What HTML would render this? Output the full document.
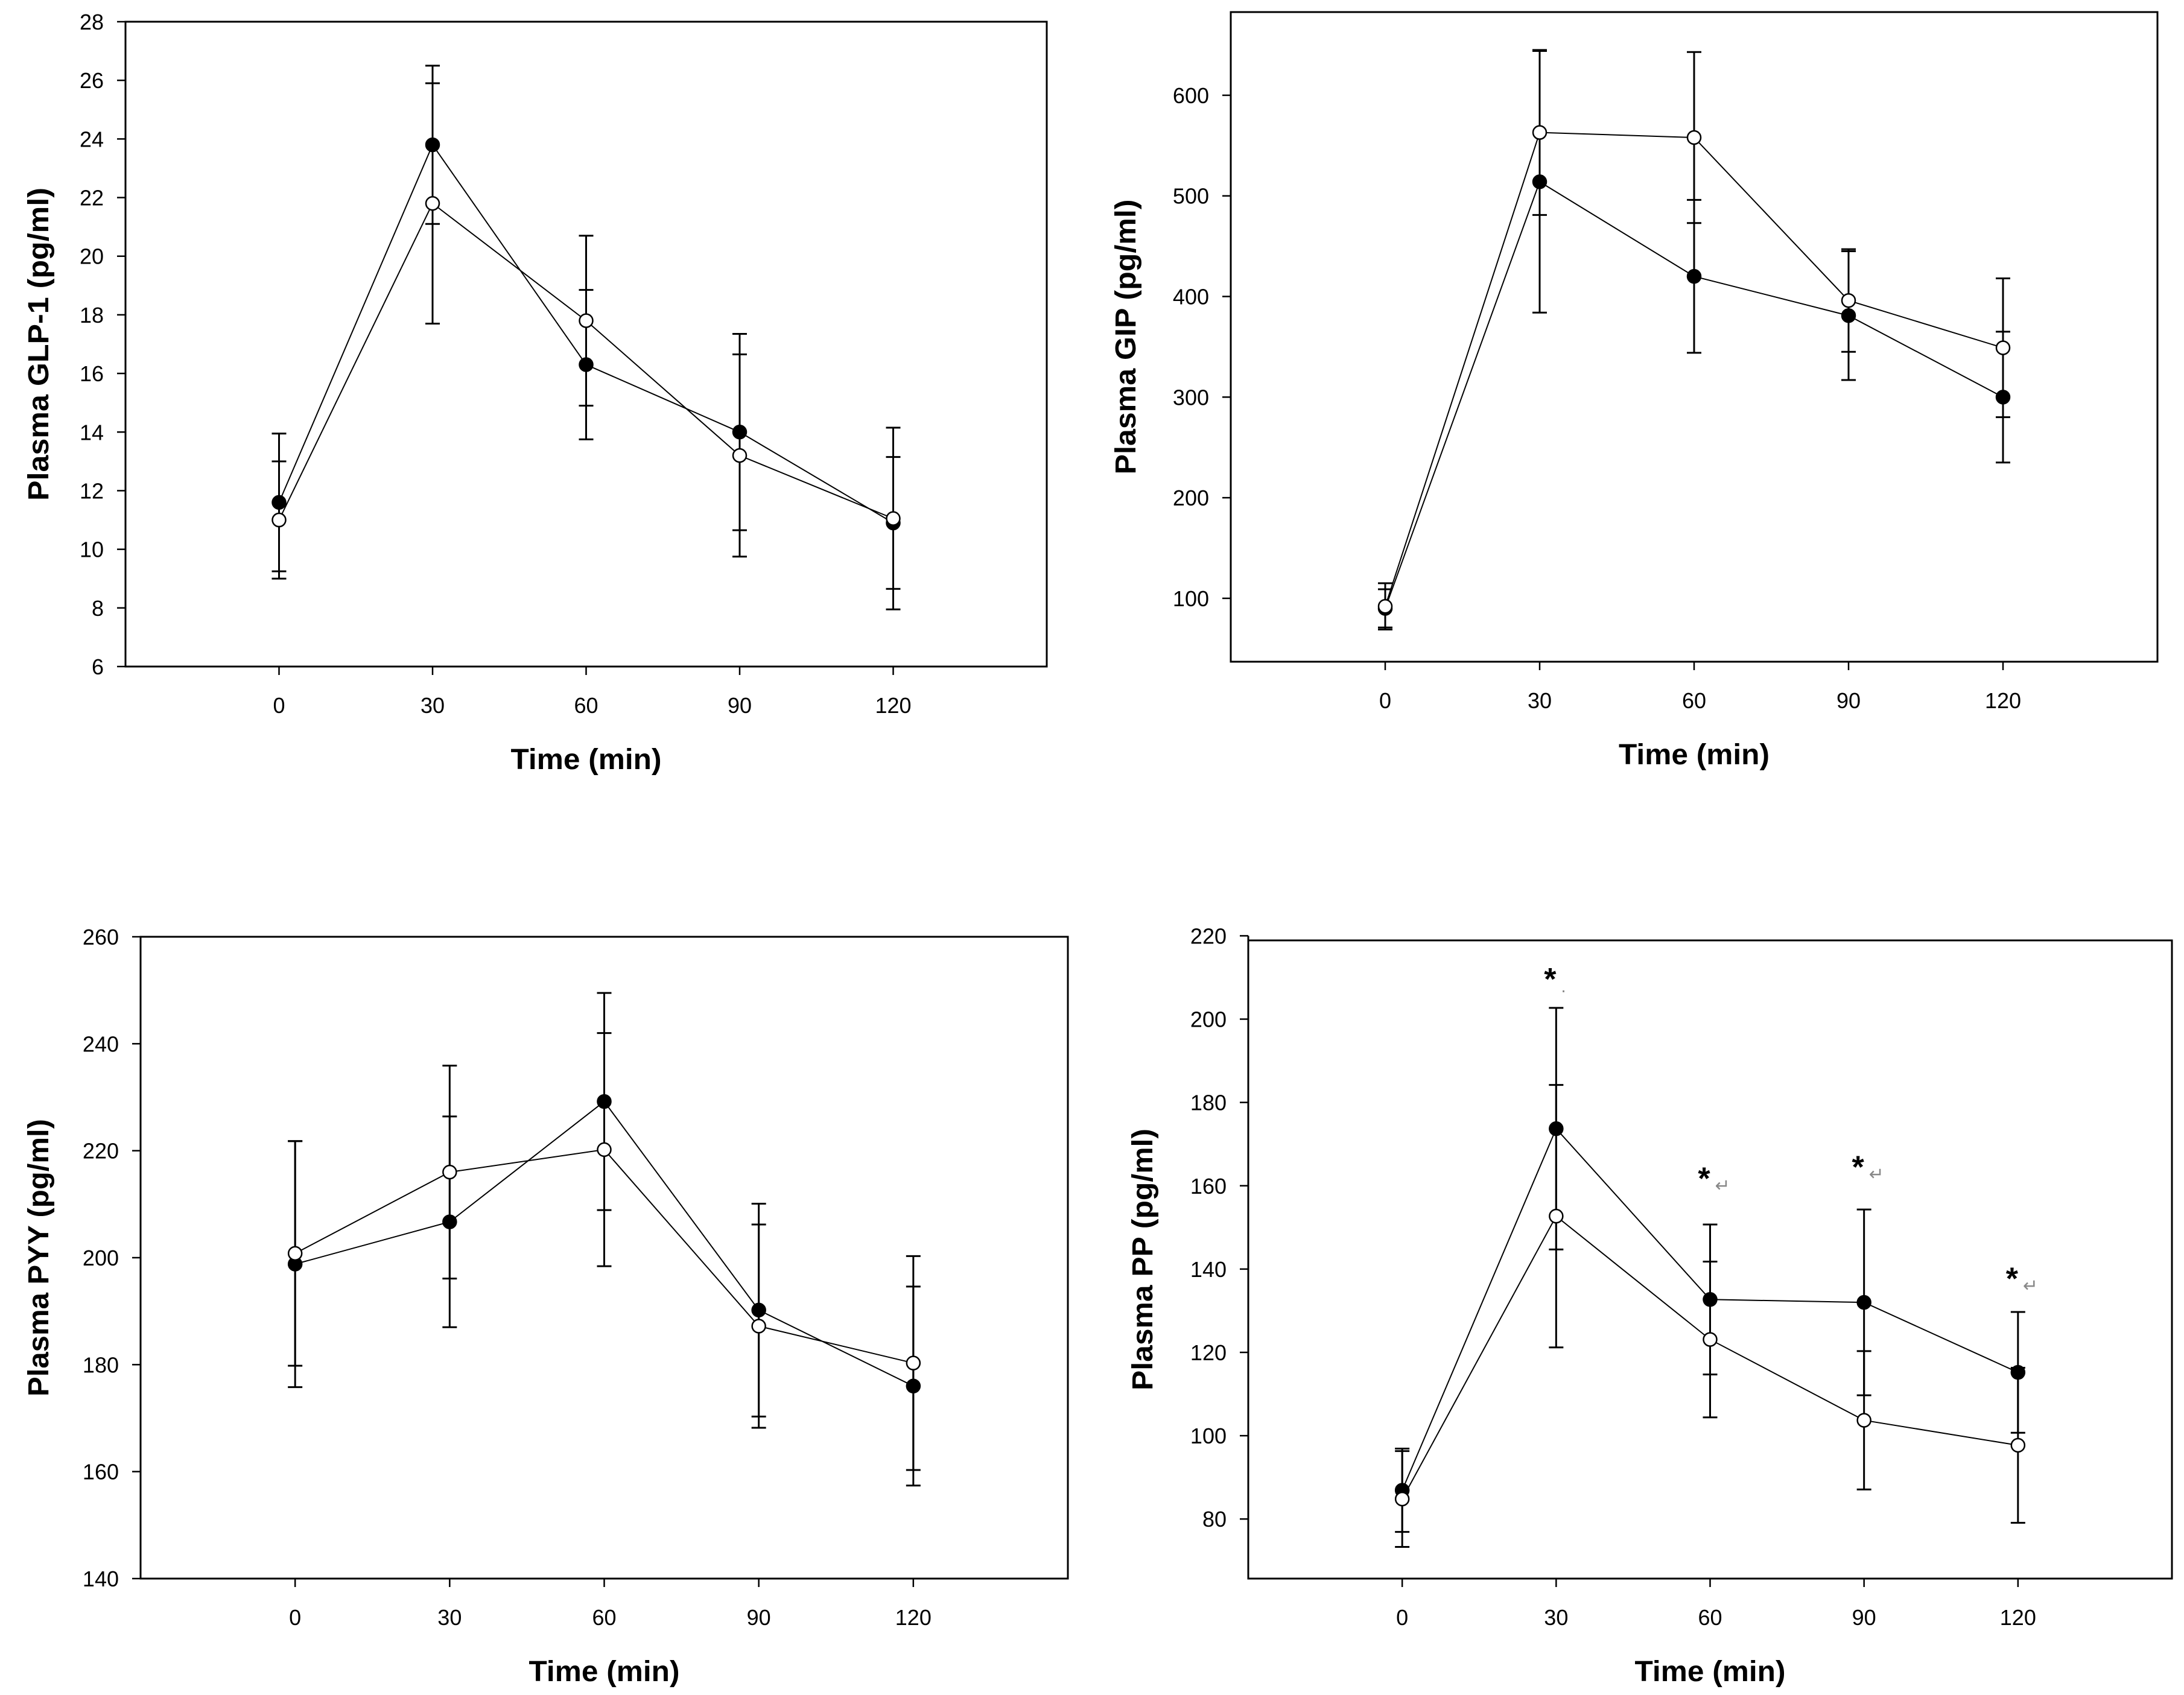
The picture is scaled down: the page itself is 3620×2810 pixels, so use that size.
<!DOCTYPE html>
<html><head><meta charset="utf-8"><style>
html,body{margin:0;padding:0;background:#fff;}
svg{display:block;font-family:"Liberation Sans",Arial,sans-serif;}
</style></head><body>
<svg id="fig" width="3620" height="2810" viewBox="0 0 3620 2810" xmlns="http://www.w3.org/2000/svg"></svg>
<script>
const times = [0, 30, 60, 90, 120];
const xTicks = [0, 30, 60, 90, 120];
// GLP-1
const glpFilled = [11.6, 23.8, 16.3, 14.0, 10.9];
const glpFilledErr = [2.35, 2.7, 2.55, 3.35, 2.25];
const glpOpen = [11.0, 21.8, 17.8, 13.2, 11.05];
const glpOpenErr = [2.0, 4.1, 2.9, 3.45, 3.1];
const glpTicks = [6, 8, 10, 12, 14, 16, 18, 20, 22, 24, 26, 28];
// GIP
const gipFilled = [90, 514, 420, 381, 300];
const gipFilledErr = [19, 130, 76, 64, 65];
const gipOpen = [92, 563, 558, 396, 349];
const gipOpenErr = [23, 82, 85, 51, 69];
const gipTicks = [100, 200, 300, 400, 500, 600];
// PYY
const pyyFilled = [198.8, 206.7, 229.2, 190.2, 176.0];
const pyyFilledErr = [23, 19.7, 20.3, 19.9, 18.6];
const pyyOpen = [200.8, 216.0, 220.2, 187.2, 180.3];
const pyyOpenErr = [21, 19.9, 21.8, 19.0, 20.0];
const pyyTicks = [140, 160, 180, 200, 220, 240, 260];
// PP
const ppFilled = [86.9, 173.7, 132.7, 132.0, 115.2];
const ppFilledErr = [10, 29, 18, 22.3, 14.5];
const ppOpen = [84.8, 152.7, 123.1, 103.7, 97.7];
const ppOpenErr = [11.5, 31.5, 18.7, 16.6, 18.6];
const ppTicks = [80, 100, 120, 140, 160, 180, 200, 220];
const ppStarTimes = [30, 60, 90, 120];
const ppStarValues = [211.4, 163.5, 166.3, 139.5];

const NS = "http://www.w3.org/2000/svg";
const svg = document.getElementById('fig');
function mk(tag, attrs, parent) {
  const e = document.createElementNS(NS, tag);
  for (const k in attrs) e.setAttribute(k, attrs[k]);
  (parent || svg).appendChild(e);
  return e;
}

function panel(cfg) {
  const g = mk('g', {});
  
  
  const sx = v => cfg.x0 + (v - (-30)) / 180 * (cfg.x1 - cfg.x0);
  const sy = v => cfg.y1 - (v - cfg.ymin) / (cfg.ymax - cfg.ymin) * (cfg.y1 - cfg.y0);
  const box = mk('rect', {x: cfg.x0, y: cfg.y0, width: cfg.x1 - cfg.x0, height: cfg.y1 - cfg.y0, fill: 'none', stroke: '#000', 'stroke-width': 3}, g);
  
  
  if (cfg.axisTop !== undefined) {
    const al = mk('line', {x1: cfg.x0, x2: cfg.x0, y1: sy(cfg.axisTop), y2: cfg.y0, stroke: '#000', 'stroke-width': 3}, g);
    
    
  }
  cfg.yTicks.forEach(t => {
    const y = sy(t);
    const tl = mk('line', {x1: cfg.x0 - 14, x2: cfg.x0, y1: y, y2: y, stroke: '#000', 'stroke-width': 2.5}, g);
    
    
    const tx = mk('text', {x: cfg.x0 - 36, y: y + 13, 'text-anchor': 'end', 'font-size': 36, fill: '#000'}, g);
    
    
    tx.textContent = t;
  });
  xTicks.forEach(t => {
    const x = sx(t);
    const tl = mk('line', {x1: x, x2: x, y1: cfg.y1, y2: cfg.y1 + 14, stroke: '#000', 'stroke-width': 2.5}, g);
    
    
    const tx = mk('text', {x: x, y: cfg.y1 + 77, 'text-anchor': 'middle', 'font-size': 36, fill: '#000'}, g);
    
    
    tx.textContent = t;
  });
  const xt = mk('text', {x: (cfg.x0 + cfg.x1) / 2, y: cfg.y1 + 170, 'text-anchor': 'middle', 'font-size': 48, 'font-weight': 'bold', textLength: 250, lengthAdjust: 'spacingAndGlyphs'}, g);
  
  
  xt.textContent = 'Time (min)';
  const cy = (cfg.y0 + cfg.y1) / 2, cx = cfg.x0 - cfg.titleOff;
  const yt = mk('text', {x: cx, y: cy, 'text-anchor': 'middle', 'font-size': 48, 'font-weight': 'bold', transform: `rotate(-90 ${cx} ${cy}) translate(0 17)`, textLength: cfg.titleLen, lengthAdjust: 'spacingAndGlyphs'}, g);
  
  
  yt.textContent = cfg.ytitle;

  [[cfg.filled, cfg.filledErr, '#000', 'filled-series'], [cfg.open, cfg.openErr, '#fff', 'open-series']].forEach(([vals, errs, fill, nm]) => {
    const sg = mk('g', {}, g);
    
    
    const pts = times.map((t, i) => sx(t) + ',' + sy(vals[i])).join(' ');
    const pl = mk('polyline', {points: pts, fill: 'none', stroke: '#000', 'stroke-width': 2}, sg);
    
    
    times.forEach((t, i) => {
      const x = sx(t), yu = sy(vals[i] + errs[i]), yd = sy(vals[i] - errs[i]);
      const eb = mk('path', {d: `M${x},${yu}V${yd}M${x - 12},${yu}H${x + 12}M${x - 12},${yd}H${x + 12}`, stroke: '#000', 'stroke-width': 3, fill: 'none'}, sg);
      
      
    });
    times.forEach((t, i) => {
      const c = mk('circle', {cx: sx(t), cy: sy(vals[i]), r: 11, fill: fill, stroke: '#000', 'stroke-width': 2.5}, sg);
      
      
    });
  });
  if (cfg.stars) {
    cfg.stars.times.forEach((t, i) => {
      const st = mk('text', {x: sx(t) - 10, y: sy(cfg.stars.vals[i]) + 30, 'font-size': 52, 'font-weight': 'bold', 'text-anchor': 'middle'}, g);
      
      
      st.textContent = '*';
      const rt = mk('text', {x: sx(t) + 8, y: sy(cfg.stars.vals[i]) + 34, 'font-size': 30, fill: '#888'}, g);
      
      
      rt.textContent = i === 0 ? '.' : '↵';
    });
  }
}

panel({name: 'glp1-chart', x0: 208, x1: 1735, y0: 36, y1: 1105, ymin: 6, ymax: 28, yTicks: glpTicks,
  filled: glpFilled, filledErr: glpFilledErr, open: glpOpen, openErr: glpOpenErr, ytitle: 'Plasma GLP-1 (pg/ml)', titleOff: 145, titleLen: 519});
panel({name: 'gip-chart', x0: 2040, x1: 3576, y0: 20, y1: 1097, ymin: 37, ymax: 682.7, yTicks: gipTicks,
  filled: gipFilled, filledErr: gipFilledErr, open: gipOpen, openErr: gipOpenErr, ytitle: 'Plasma GIP (pg/ml)', titleOff: 175, titleLen: 456});
panel({name: 'pyy-chart', x0: 233, x1: 1770, y0: 1553, y1: 2617, ymin: 140, ymax: 260, yTicks: pyyTicks,
  filled: pyyFilled, filledErr: pyyFilledErr, open: pyyOpen, openErr: pyyOpenErr, ytitle: 'Plasma PYY (pg/ml)', titleOff: 170, titleLen: 460});
panel({name: 'pp-chart', x0: 2069, x1: 3600, y0: 1559, y1: 2617, ymin: 65.7, ymax: 218.9, yTicks: ppTicks, axisTop: 220,
  filled: ppFilled, filledErr: ppFilledErr, open: ppOpen, openErr: ppOpenErr, ytitle: 'Plasma PP (pg/ml)', titleOff: 176, titleLen: 434,
  stars: {times: ppStarTimes, vals: ppStarValues}});
</script>
</body></html>
